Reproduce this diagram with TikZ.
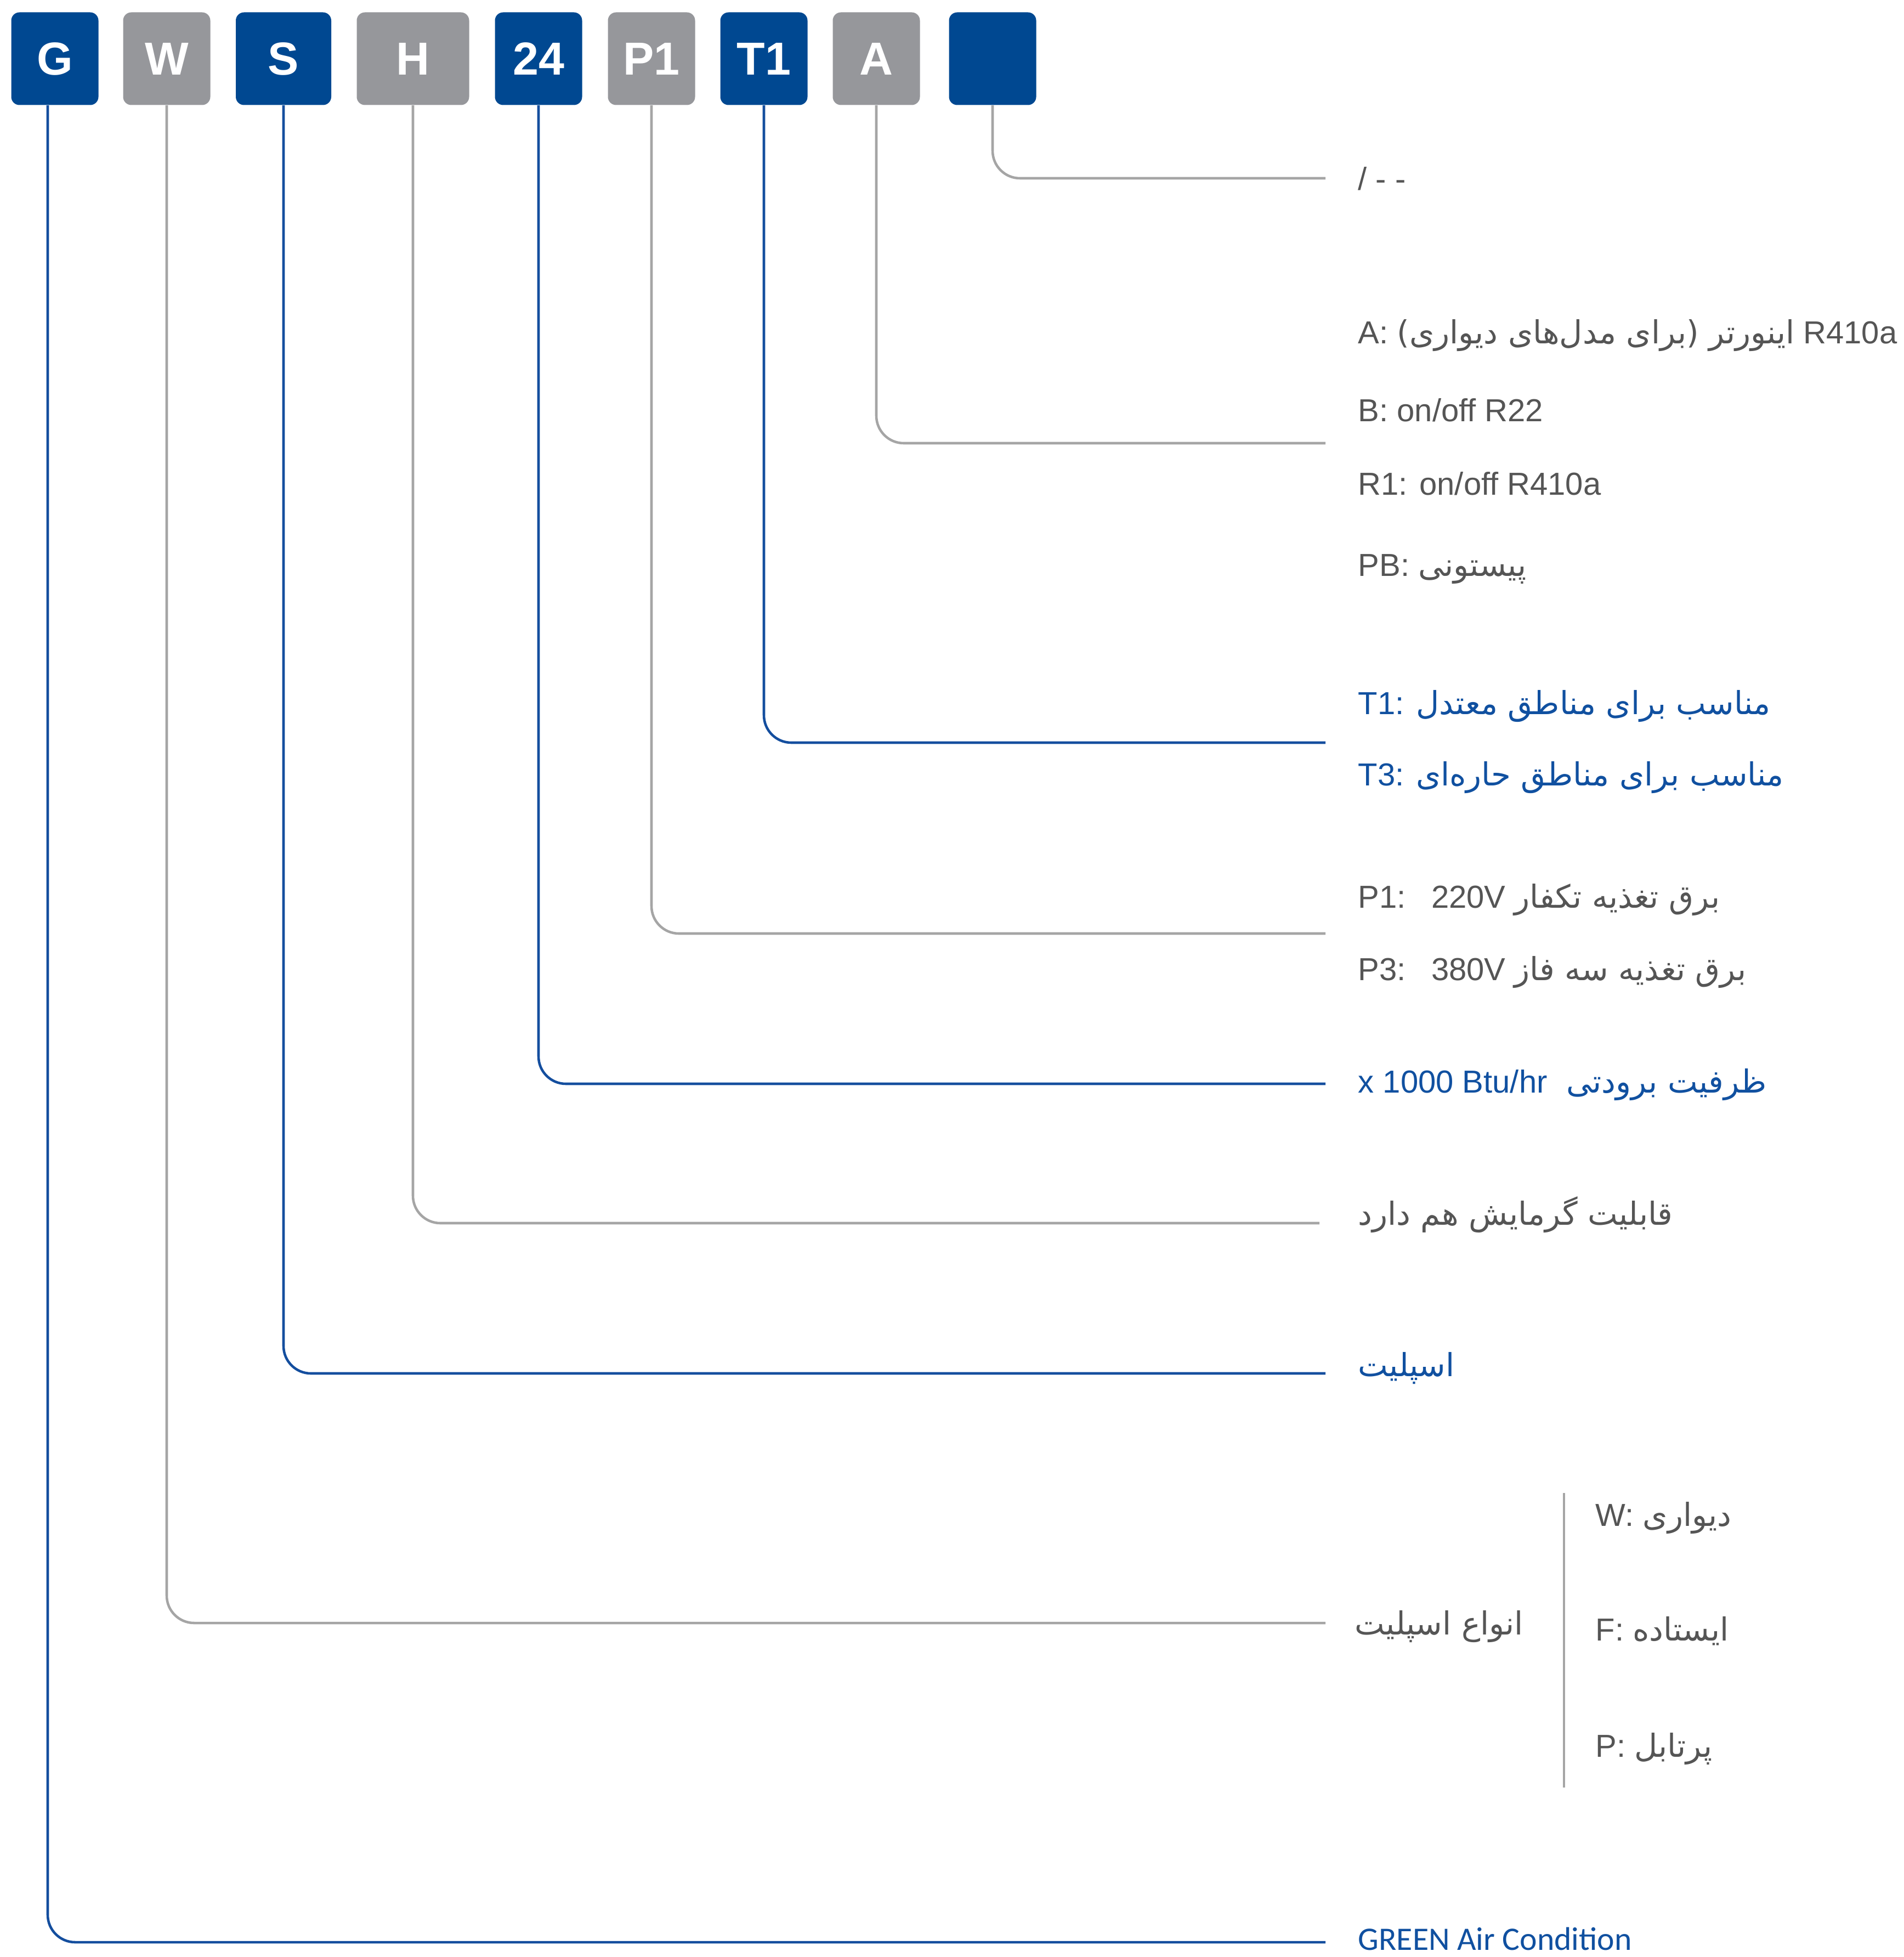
\documentclass[tikz,border=0pt]{standalone}
\usepackage{fontspec}
\setmainfont{Liberation Sans}
\newfontfamily\fafont[Script=Arabic]{DejaVu Sans}
\newfontfamily\calfont{Carlito}
\TeXXeTstate=1
\newcommand{\fa}[1]{{\fafont\beginR #1\endR}}
\definecolor{boxblue}{RGB}{0,72,145}
\definecolor{boxgray}{RGB}{150,151,155}
\definecolor{lineblue}{RGB}{20,78,158}
\definecolor{linegray}{RGB}{165,165,165}
\definecolor{textblue}{RGB}{16,80,160}
\definecolor{textgray}{RGB}{85,85,85}

\begin{document}
\begin{tikzpicture}[
    codeblue/.style={rounded corners=0.15cm, fill=boxblue, text=white, minimum width=1.59cm, minimum height=1.69cm, inner sep=0pt, font=\fontsize{24}{24}\selectfont\bfseries},
    codegray/.style={codeblue, fill=boxgray},
    blueline/.style={draw=lineblue, line width=1.3pt, rounded corners=0.5cm},
    grayline/.style={draw=linegray, line width=1.3pt, rounded corners=0.5cm},
    lbl/.style={anchor=west, inner sep=0pt, text=textgray, font=\fontsize{16.5}{16.5}\selectfont, text height=12pt, text depth=0pt},
    lblblue/.style={lbl, text=textblue}
]
    \useasboundingbox (0,0) rectangle (34.71,-35.68);

    % Caixas do codigo do modelo
    \node[codeblue] (g) at (1.00,-1.07) {G};
    \node[codegray] (w) at (3.04,-1.07) {W};
    \node[codeblue, minimum width=1.74cm] (s) at (5.17,-1.07) {S};
    \node[codegray, minimum width=2.05cm] (h) at (7.53,-1.07) {H};
    \node[codeblue] (n24) at (9.82,-1.07) {24};
    \node[codegray] (p1) at (11.88,-1.07) {P1};
    \node[codeblue] (t1) at (13.93,-1.07) {T1};
    \node[codegray] (a) at (15.98,-1.07) {A};
    \node[codeblue] (x) at (18.10,-1.07) {};

    % Fim de cada linha
    \coordinate (ex) at (24.17,-3.25);
    \coordinate (ea) at (24.17,-8.08);
    \coordinate (et1) at (24.17,-13.54);
    \coordinate (ep1) at (24.17,-17.02);
    \coordinate (e24) at (24.17,-19.76);
    \coordinate (eh) at (24.06,-22.30);
    \coordinate (es) at (24.17,-25.04);
    \coordinate (ew) at (24.17,-29.59);
    \coordinate (eg) at (24.17,-35.41);

    % Linhas das caixas
    \draw[grayline] (x.south) |- (ex);
    \draw[grayline] (a.south) |- (ea);
    \draw[blueline] (t1.south) |- (et1);
    \draw[grayline] (p1.south) |- (ep1);
    \draw[blueline] (n24.south) |- (e24);
    \draw[grayline] (h.south) |- (eh);
    \draw[blueline] (s.south) |- (es);
    \draw[grayline] (w.south) |- (ew);
    \draw[blueline] ([xshift=-0.13cm]g.south) |- (eg);

    % Textos
    \node[lbl] (lx) at (24.76,-3.25) {/ - -};
    \node[lbl] (la) at (24.76,-6.05) {A: \fa{اینورتر (برای مدل‌های دیواری)} R410a};
    \node[lbl] (lb) at (24.76,-7.47) {B: on/off R22};
    \node[lbl] (lr1) at (24.76,-8.81) {R1: on/off R410a};
    \node[lbl] (lpb) at (24.76,-10.29) {PB: \fa{پیستونی}};
    \node[lblblue] (lt1) at (24.76,-12.81) {T1: \fa{مناسب برای مناطق معتدل}};
    \node[lblblue] (lt3) at (24.76,-14.11) {T3: \fa{مناسب برای مناطق حاره‌ای}};
    \node[lbl] (lp1) at (24.76,-16.34) {P1:\hspace{0.8em}220V \fa{برق تغذیه تکفار}};
    \node[lbl] (lp3) at (24.76,-17.66) {P3:\hspace{0.8em}380V \fa{برق تغذیه سه فاز}};
    \node[lblblue] (l24) at (24.76,-19.71) {x 1000 Btu/hr\hspace{0.6em}\fa{ظرفیت برودتی}};
    \node[lbl] (lh) at (24.76,-22.12) {\fa{قابلیت گرمایش هم دارد}};
    \node[lblblue] (ls) at (24.76,-24.88) {\fa{اسپلیت}};
    \node[lbl] (lw) at (24.70,-29.59) {\fa{انواع اسپلیت}};
    \node[lbl] (lww) at (29.09,-27.61) {W: \fa{دیواری}};
    \node[lbl] (lf) at (29.09,-29.70) {F: \fa{ایستاده}};
    \node[lbl] (lp) at (29.09,-31.82) {P: \fa{پرتابل}};
    \node[lblblue, font=\calfont\fontsize{17}{17}\selectfont] (lg) at (24.76,-35.34) {GREEN Air Condition};

    % Separador dos tipos
    \coordinate (st) at (28.52,-27.22);
    \coordinate (sb) at (28.52,-32.59);
    \draw[grayline] (st) -- (sb);

\end{tikzpicture}
\end{document}
